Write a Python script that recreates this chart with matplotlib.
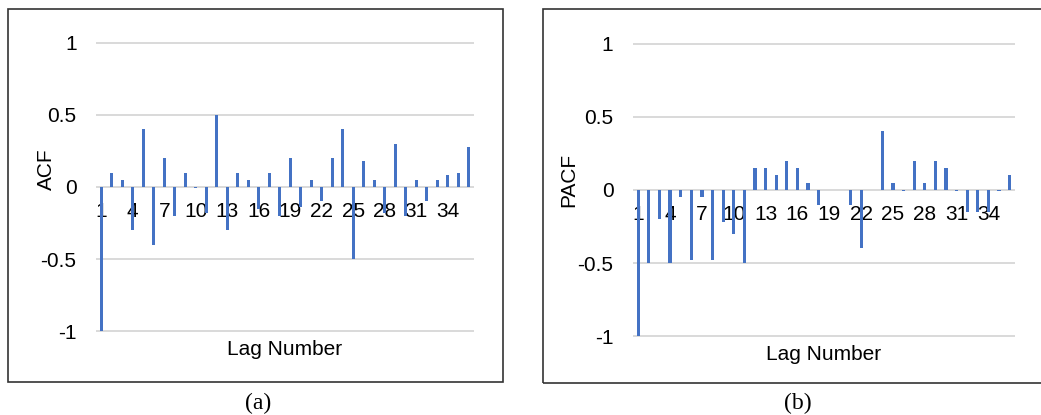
import matplotlib.pyplot as plt
from matplotlib.patches import Rectangle

lags = list(range(1, 37))
acf_values = [-1.0, 0.1, 0.05, -0.3, 0.4, -0.4, 0.2, -0.2, 0.1, -0.01,
              -0.18, 0.5, -0.3, 0.1, 0.05, -0.15, 0.1, -0.2, 0.2, -0.14,
              0.05, -0.1, 0.2, 0.4, -0.5, 0.18, 0.05, -0.18, 0.3, -0.2,
              0.05, -0.1, 0.05, 0.08, 0.1, 0.28]
pacf_values = [-1.0, -0.5, -0.2, -0.5, -0.05, -0.48, -0.05, -0.48, -0.22, -0.3,
               -0.5, 0.15, 0.15, 0.1, 0.2, 0.15, 0.05, -0.1, 0.0, 0.0,
               -0.1, -0.4, 0.0, 0.4, 0.05, -0.01, 0.2, 0.05, 0.2, 0.15,
               -0.01, -0.15, -0.15, -0.15, -0.01, 0.1]
tick_lags = list(range(1, 37, 3))
y_ticks = [-1, -0.5, 0, 0.5, 1]
y_tick_labels = ["-1", "-0.5", "0", "0.5", "1"]

BAR_COLOR = "#4472C4"
GRID_COLOR = "#D9D9D9"

plt.rcParams["font.family"] = ["Liberation Sans", "DejaVu Sans"]

fig = plt.figure(figsize=(10.41, 4.15), dpi=100)


def draw_panel(rect, values, ylabel, ylabel_xy, xlabel_y):
    ax = fig.add_axes(rect)
    ax.bar(lags, values, width=0.3, color=BAR_COLOR, zorder=3)
    ax.set_xlim(0.5, 36.5)
    ax.set_ylim(-1.005, 1.005)
    ax.set_yticks(y_ticks)
    ax.set_yticklabels(y_tick_labels)
    ax.set_xticks(tick_lags)
    ax.set_xticklabels([str(t) for t in tick_lags])
    # Excel style: category labels sit on the zero line
    for side in ["top", "right", "left"]:
        ax.spines[side].set_visible(False)
    ax.spines["bottom"].set_position(("data", 0))
    ax.spines["bottom"].set_visible(False)
    ax.tick_params(axis="x", length=0, pad=11, labelsize=15)
    ax.tick_params(axis="y", length=0, pad=14, labelsize=15)
    ax.yaxis.grid(True, color=GRID_COLOR, linewidth=1.4, zorder=0)
    ax.set_axisbelow(True)
    ax.set_xlabel("Lag Number", fontsize=15, va="center")
    ax.xaxis.set_label_coords(0.5, xlabel_y)
    ax.set_ylabel(ylabel, fontsize=15, va="center")
    ax.yaxis.set_label_coords(*ylabel_xy)
    return ax


draw_panel([0.0922, 0.2, 0.3631, 0.6988], acf_values, "ACF", (-0.13, 0.562), -0.062)
draw_panel([0.608, 0.188, 0.367, 0.7084], pacf_values, "PACF", (-0.168, 0.534), -0.058)

# frames round each panel
W, H = 1041, 415
fig.patches.append(Rectangle((8 / W, (H - 382) / H), 495 / W, 373 / H,
                             transform=fig.transFigure, fill=False,
                             edgecolor="#333333", linewidth=1.2))
fig.patches.append(Rectangle((543 / W, (H - 383) / H), 500 / W, 374 / H,
                             transform=fig.transFigure, fill=False,
                             edgecolor="#333333", linewidth=1.2))

fig.text(258 / W, 1 - 403 / H, "(a)", ha="center", va="center",
         fontsize=17, family=["Liberation Serif", "DejaVu Serif"])
fig.text(798 / W, 1 - 403 / H, "(b)", ha="center", va="center",
         fontsize=17, family=["Liberation Serif", "DejaVu Serif"])

fig.savefig("out.png", dpi=100)
